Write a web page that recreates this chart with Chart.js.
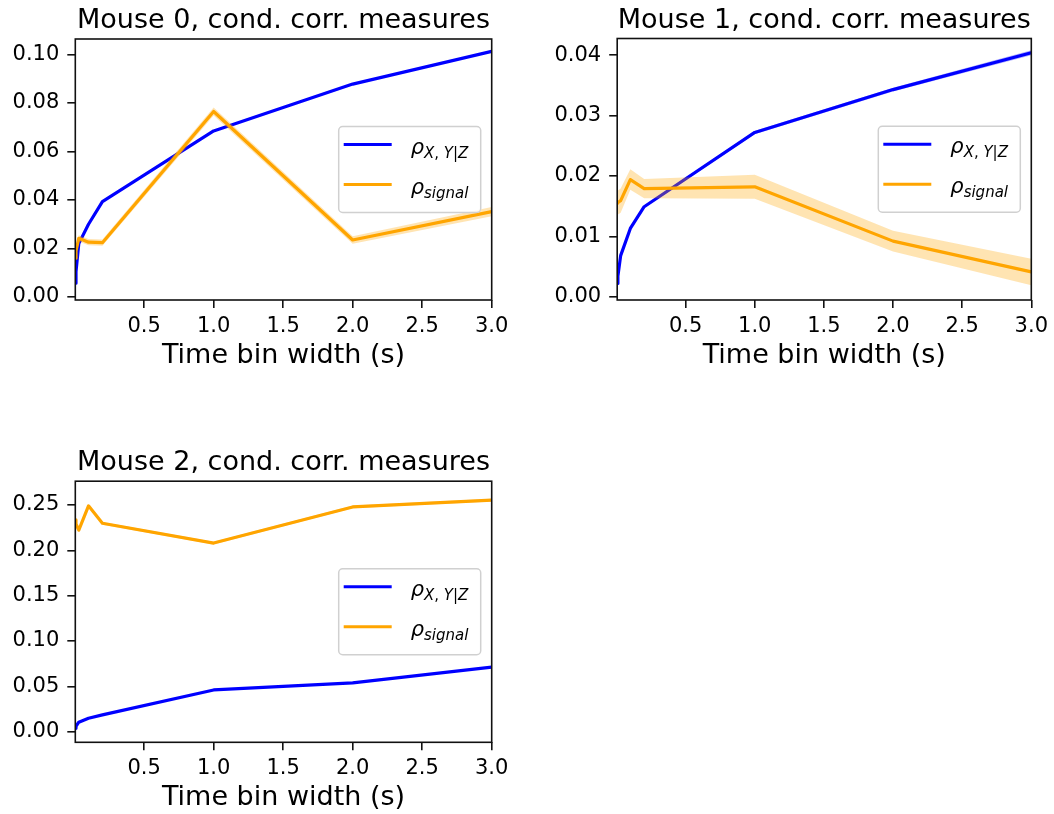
<!DOCTYPE html>
<html>
<head>
<meta charset="utf-8">
<script src="https://cdn.jsdelivr.net/npm/chart.js@4"></script>
<style>
  body { margin: 0; background: #fff; }
  canvas { position: absolute; }
</style>
</head>
<body>
<canvas id="m0" width="527" height="400" style="left:0;top:0"></canvas>
<canvas id="m1" width="527" height="400" style="left:527px;top:0"></canvas>
<canvas id="m2" width="527" height="394" style="left:0;top:420px"></canvas>
<script>
// 時間窗寬度 (s)
var binWidths = [0.005, 0.01, 0.03, 0.1, 0.2, 1, 2, 3];
var xTicks = [0.5, 1.0, 1.5, 2.0, 2.5, 3.0];

// Mouse 0
var m0Cond      = [0.0057, 0.0105, 0.022, 0.030, 0.0393, 0.0685, 0.0878, 0.1013];
var m0CondErr   = [0.0002, 0.0002, 0.0003, 0.0003, 0.0003, 0.0004, 0.0004, 0.0004];
var m0Signal    = [0.016, 0.019, 0.0242, 0.0226, 0.0224, 0.0765, 0.0235, 0.0352];
var m0SignalErr = [0.0011, 0.0011, 0.0013, 0.0013, 0.0013, 0.0016, 0.0015, 0.0019];
var m0YTicks    = [0.00, 0.02, 0.04, 0.06, 0.08, 0.10];

// Mouse 1
var m1Cond      = [0.0022, 0.0034, 0.0068, 0.0113, 0.0149, 0.0272, 0.0343, 0.0404];
var m1CondErr   = [0.0001, 0.0001, 0.0002, 0.0002, 0.0002, 0.0003, 0.0003, 0.0004];
var m1Signal    = [0.0155, 0.0156, 0.0159, 0.0194, 0.0179, 0.0182, 0.0092, 0.0041];
var m1SignalErr = [0.002, 0.002, 0.002, 0.0017, 0.0016, 0.002, 0.0017, 0.0022];
var m1YTicks    = [0.00, 0.01, 0.02, 0.03, 0.04];

// Mouse 2
var m2Cond      = [0.0037, 0.006, 0.0105, 0.0148, 0.0185, 0.046, 0.0538, 0.0712];
var m2CondErr   = [0.0005, 0.0005, 0.0005, 0.0005, 0.0005, 0.0006, 0.0006, 0.0006];
var m2Signal    = [0.2335, 0.229, 0.2222, 0.249, 0.2298, 0.208, 0.2478, 0.2553];
var m2SignalErr = [0.0015, 0.0015, 0.0015, 0.0015, 0.0015, 0.0015, 0.0015, 0.0015];
var m2YTicks    = [0.00, 0.05, 0.10, 0.15, 0.20, 0.25];

var FONT = '"DejaVu Sans", sans-serif';
var BLUE = '#0000ff';
var ORANGE = '#ffa500';

function pts(vals, err, sign) {
  return binWidths.map(function(x, i) {
    return { x: x, y: vals[i] + sign * (err ? err[i] : 0) };
  });
}

function bandAndLine(vals, err, color, fillColor, baseOrder) {
  return [
    { data: pts(vals, err, 1), borderWidth: 0, pointRadius: 0, fill: false, order: baseOrder + 1 },
    { data: pts(vals, err, -1), borderWidth: 0, pointRadius: 0, fill: '-1',
      backgroundColor: fillColor, order: baseOrder + 1 },
    { data: pts(vals, null, 0), borderColor: color, borderWidth: 3.2, pointRadius: 0,
      fill: false, tension: 0, borderJoinStyle: 'round', order: baseOrder }
  ];
}

// 圖例文字：ρ 加下標
var condLabel = [
  { t: 'ρ', f: 'italic 21px ' + FONT, dy: 0 },
  { t: 'X', f: 'italic 15px ' + FONT, dy: 4 },
  { t: ', ', f: '15px ' + FONT, dy: 4 },
  { t: 'Y', f: 'italic 15px ' + FONT, dy: 4 },
  { t: '|', f: '15px ' + FONT, dy: 4 },
  { t: 'Z', f: 'italic 15px ' + FONT, dy: 4 }
];
var signalLabel = [
  { t: 'ρ', f: 'italic 21px ' + FONT, dy: 0 },
  { t: 'signal', f: 'italic 15px ' + FONT, dy: 4 }
];

function drawRuns(ctx, x, y, runs) {
  runs.forEach(function(r) {
    ctx.font = r.f;
    ctx.fillText(r.t, x, y + r.dy);
    x += ctx.measureText(r.t).width;
  });
}

var decor = {
  id: 'decor',
  afterDraw: function(chart) {
    var ctx = chart.ctx;
    var a = chart.chartArea;
    var o = chart.options.plugins.decor;
    ctx.save();

    // 四邊框線
    ctx.strokeStyle = '#111';
    ctx.lineWidth = 1.6;
    ctx.strokeRect(a.left, a.top, a.right - a.left, a.bottom - a.top);

    ctx.fillStyle = '#000';
    ctx.textAlign = 'center';
    ctx.textBaseline = 'alphabetic';
    ctx.font = '27px ' + FONT;
    ctx.fillText(o.title, (a.left + a.right) / 2, a.top - 11);
    ctx.fillText('Time bin width (s)', (a.left + a.right) / 2, a.bottom + 63);

    // 圖例 (center right)
    var w = 142, h = 86;
    var bx = a.right - 11 - w;
    var by = (a.top + a.bottom) / 2 - h / 2;
    ctx.beginPath();
    ctx.roundRect(bx, by, w, h, 4);
    ctx.fillStyle = 'rgba(255,255,255,0.8)';
    ctx.fill();
    ctx.strokeStyle = '#d0d0d0';
    ctx.lineWidth = 1.5;
    ctx.stroke();

    var rows = [
      { y: by + h / 2 - 25, color: BLUE, label: condLabel },
      { y: by + h / 2 + 15, color: ORANGE, label: signalLabel }
    ];
    ctx.textAlign = 'left';
    rows.forEach(function(r) {
      ctx.beginPath();
      ctx.moveTo(bx + 5, r.y);
      ctx.lineTo(bx + 53, r.y);
      ctx.strokeStyle = r.color;
      ctx.lineWidth = 3.2;
      ctx.stroke();
      ctx.fillStyle = '#000';
      drawRuns(ctx, bx + 72, r.y + 9, r.label);
    });
    ctx.restore();
  }
};

function makeChart(id, cfg) {
  var canvas = document.getElementById(id);
  var W = canvas.width, H = canvas.height;
  var datasets = []
    .concat(bandAndLine(cfg.cond, cfg.condErr, BLUE, 'rgba(0,0,255,0.3)', 3))
    .concat(bandAndLine(cfg.signal, cfg.signalErr, ORANGE, 'rgba(255,165,0,0.3)', 1));

  var tickFont = { family: FONT, size: 21 };
  var grid = { display: true, drawOnChartArea: false, drawTicks: true, tickLength: 8,
               tickColor: '#111', tickWidth: 1.6, lineWidth: 1.6 };

  return new Chart(canvas.getContext('2d'), {
    type: 'line',
    data: { datasets: datasets },
    options: {
      responsive: false,
      animation: false,
      devicePixelRatio: 1,
      layout: { padding: { left: 0, top: cfg.top, right: W - cfg.right, bottom: 0 } },
      plugins: {
        legend: { display: false },
        tooltip: { enabled: false },
        decor: { title: cfg.title }
      },
      scales: {
        x: {
          type: 'linear',
          min: binWidths[0], max: 3,
          grid: grid,
          border: { display: false },
          ticks: { font: tickFont, color: '#000', padding: 6, maxRotation: 0,
                   callback: function(v) { return v.toFixed(1); } },
          afterBuildTicks: function(s) { s.ticks = xTicks.map(function(v) { return { value: v }; }); },
          afterFit: function(s) { s.height = H - cfg.bottom; }
        },
        y: {
          min: cfg.yMin, max: cfg.yMax,
          grid: grid,
          border: { display: false },
          ticks: { font: tickFont, color: '#000', padding: 8,
                   callback: function(v) { return v.toFixed(2); } },
          afterBuildTicks: function(s) { s.ticks = cfg.yTicks.map(function(v) { return { value: v }; }); },
          afterFit: function(s) { s.width = cfg.left; }
        }
      }
    },
    plugins: [decor]
  });
}

makeChart('m0', {
  title: 'Mouse 0, cond. corr. measures',
  cond: m0Cond, condErr: m0CondErr, signal: m0Signal, signalErr: m0SignalErr,
  yTicks: m0YTicks, yMin: -0.00124, yMax: 0.1064,
  left: 75.3, right: 491.7, top: 39, bottom: 300
});
makeChart('m1', {
  title: 'Mouse 1, cond. corr. measures',
  cond: m1Cond, condErr: m1CondErr, signal: m1Signal, signalErr: m1SignalErr,
  yTicks: m1YTicks, yMin: -0.00055, yMax: 0.04276,
  left: 90.2, right: 506.6, top: 38.5, bottom: 300
});
makeChart('m2', {
  title: 'Mouse 2, cond. corr. measures',
  cond: m2Cond, condErr: m2CondErr, signal: m2Signal, signalErr: m2SignalErr,
  yTicks: m2YTicks, yMin: -0.0117, yMax: 0.2762,
  left: 75.3, right: 491.7, top: 61.2, bottom: 322.3
});
</script>
</body>
</html>
